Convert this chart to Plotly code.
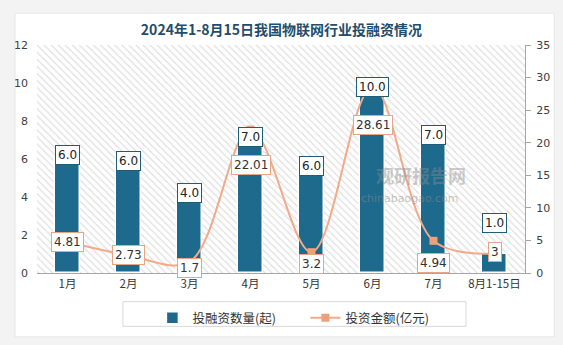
import plotly.graph_objects as go

categories = ["1月", "2月", "3月", "4月", "5月", "6月", "7月", "8月1-15日"]
deal_counts = [6, 6, 4, 7, 6, 10, 7, 1]
deal_amounts = [4.81, 2.73, 1.7, 22.01, 3.2, 28.61, 4.94, 3]
amount_text = ["4.81", "2.73", "1.7", "22.01", "3.2", "28.61", "4.94", "3"]
left_ticks = [0, 2, 4, 6, 8, 10, 12]
right_ticks = [0, 5, 10, 15, 20, 25, 30, 35]

# label offsets (pixels) - layout only
bar_label_shift = [4, -2, 4, 3, -7, -4, 5, 31]
line_label_shift = [0, 0, -6, -35, -12, -38, -22, 1]

BAR = "#1D6A8C"
LINE = "#F2AA8A"
FONT = "DejaVu Sans, Noto Sans CJK SC, sans-serif"
CJK = "Noto Sans CJK SC, sans-serif"

fig = go.Figure()

# hatched plot background
fig.add_trace(go.Bar(
    x=categories, y=[left_ticks[-1]] * len(categories), width=1,
    marker=dict(color="white", line=dict(width=0),
                pattern=dict(shape="\\", fgcolor="#bcbcbc", bgcolor="white",
                             size=5, solidity=0.22)),
    showlegend=False, hoverinfo="skip", yaxis="y",
))

fig.add_trace(go.Bar(
    x=categories, y=deal_counts, name="投融资数量(起)", width=0.42,
    marker=dict(color=BAR, line=dict(color="white", width=1.5)),
    yaxis="y",
))

fig.add_trace(go.Scatter(
    x=categories, y=deal_amounts, name="投资金额(亿元)", yaxis="y2",
    mode="lines+markers",
    line=dict(color=LINE, width=2, shape="spline", smoothing=1.0),
    marker=dict(symbol="square", size=8, color="#EE9F7E"),
))

annotations = []
for c, v, s in zip(categories, deal_counts, bar_label_shift):
    annotations.append(dict(
        x=c, y=v, xref="x", yref="y", text=f"{v:.1f}", showarrow=False,
        yshift=s, bgcolor="white", bordercolor="#1F5C78", borderwidth=1,
        borderpad=2, font=dict(family=FONT, size=12, color="#222222"),
    ))
for c, v, t, s in zip(categories, deal_amounts, amount_text, line_label_shift):
    annotations.append(dict(
        x=c, y=v, xref="x", yref="y2", text=t, showarrow=False,
        yshift=s, bgcolor="white", bordercolor="#E9A486", borderwidth=1,
        borderpad=2, font=dict(family=FONT, size=12, color="#333333"),
    ))

# watermark
annotations.append(dict(x=0.883, y=0.43, xref="paper", yref="paper", text="<b>观研报告网</b>",
                        showarrow=False, font=dict(family=CJK, size=18, color="rgba(140,140,140,0.45)")))
annotations.append(dict(x=0.869, y=0.29, xref="paper", yref="paper", text="chinabaogao.com",
                        showarrow=False, font=dict(family=FONT, size=11, color="rgba(140,140,140,0.5)")))

fig.update_layout(
    width=563, height=345,
    margin=dict(l=37, r=38, t=45, b=69),
    paper_bgcolor="#f3f3f3",
    plot_bgcolor="white",
    barmode="overlay",
    bargap=0,
    title=dict(text="<b>2024年1-8月15日我国物联网行业投融资情况</b>", x=0.5, xanchor="center",
               y=0.912, yanchor="middle",
               font=dict(family=CJK, size=14, color="#1F4D6B")),
    font=dict(family=CJK, size=11, color="#404040"),
    xaxis=dict(type="category", showline=True, linecolor="#a6a6a6", linewidth=1,
               ticks="", tickfont=dict(family=CJK, size=11.5, color="#333333"),
               showgrid=False, zeroline=False),
    yaxis=dict(range=[0, 12], tickvals=left_ticks, showgrid=False, zeroline=False,
               showline=False, ticks="", ticklabelstandoff=8,
               tickfont=dict(family=FONT, size=11, color="#404040")),
    yaxis2=dict(range=[0, 35], tickvals=right_ticks, overlaying="y", side="right",
                showgrid=False, zeroline=False, showline=True, linecolor="#a6a6a6",
                ticks="outside", ticklen=5, tickcolor="#a6a6a6", ticklabelstandoff=3,
                tickfont=dict(family=FONT, size=11, color="#404040")),
    legend=dict(orientation="h", x=0.55, xanchor="center", y=-0.132, yanchor="top",
                bgcolor="rgba(0,0,0,0)", borderwidth=0,
                font=dict(family=CJK, size=12.5, color="#333333"),
                entrywidth=108, itemwidth=30),
    annotations=annotations,
    shapes=[dict(type="rect", xref="paper", yref="paper", layer="below",
                 x0=-0.045, x1=1.06, y0=-0.28, y1=1.14,
                 fillcolor="white", line=dict(color="#e6e6e6", width=1)),
            dict(type="rect", xref="paper", yref="paper", layer="below",
                 x0=0.176, x1=0.879, y0=-0.234, y1=-0.1255,
                 fillcolor="white", line=dict(color="#d9d9d9", width=1))],
)

fig.write_html("out.html")
